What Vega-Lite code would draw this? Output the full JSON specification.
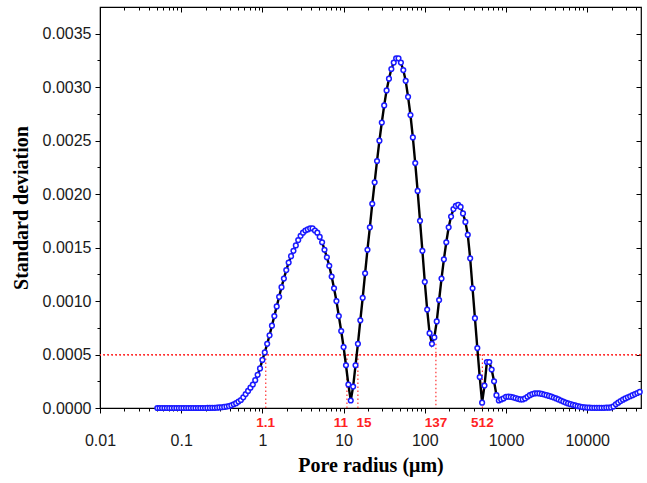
{
  "$schema": "https://vega.github.io/schema/vega-lite/v6.json",
  "width": 541,
  "height": 401,
  "autosize": {"type": "none"},
  "padding": {"left": 100, "top": 7, "right": 6, "bottom": 75},
  "background": "white",
  "config": {
    "view": {"stroke": "black", "strokeWidth": 1.2},
    "axis": {
      "grid": false,
      "domainColor": "black",
      "tickColor": "black",
      "labelFont": "Liberation Sans",
      "labelFontSize": 16,
      "labelColor": "#1a1a1a",
      "titleFont": "Liberation Serif",
      "titleFontWeight": "bold",
      "titleFontSize": 20,
      "titleColor": "black"
    }
  },
  "datasets": {
    "curve": [
      {"r":0.0508,"sd":0},{"r":0.05436,"sd":0},{"r":0.05817,"sd":0},{"r":0.06225,"sd":0},{"r":0.06661,"sd":0},{"r":0.07128,"sd":0},{"r":0.07627,"sd":0},{"r":0.08161,"sd":0},{"r":0.08733,"sd":0},{"r":0.09345,"sd":0},
      {"r":0.1,"sd":0},{"r":0.107,"sd":0},{"r":0.1145,"sd":0},{"r":0.1225,"sd":0},{"r":0.1311,"sd":0},{"r":0.1403,"sd":0},{"r":0.1501,"sd":0},{"r":0.1607,"sd":0},{"r":0.1719,"sd":0},{"r":0.184,"sd":0},{"r":0.1968,"sd":0},
      {"r":0.2106,"sd":0.000001},{"r":0.2254,"sd":0.000001},{"r":0.2412,"sd":0.000002},{"r":0.2581,"sd":0.000002},{"r":0.2762,"sd":0.000003},{"r":0.2955,"sd":0.000005},{"r":0.3162,"sd":0.000007},{"r":0.3384,"sd":0.00001},{"r":0.3621,"sd":0.000013},{"r":0.3875,"sd":0.000018},
      {"r":0.4146,"sd":0.000025},{"r":0.4437,"sd":0.000035},{"r":0.4748,"sd":0.000045},{"r":0.508,"sd":0.00006},{"r":0.5436,"sd":0.000075},{"r":0.5817,"sd":0.0001},{"r":0.6225,"sd":0.00013},{"r":0.6661,"sd":0.00016},{"r":0.7128,"sd":0.00019},{"r":0.7627,"sd":0.00022},{"r":0.8161,"sd":0.00026},{"r":0.8733,"sd":0.00031},{"r":0.9345,"sd":0.00037},
      {"r":1.0,"sd":0.00045},{"r":1.07,"sd":0.00052},{"r":1.145,"sd":0.0006},{"r":1.225,"sd":0.00068},{"r":1.311,"sd":0.00077},{"r":1.403,"sd":0.00086},{"r":1.501,"sd":0.00095},{"r":1.607,"sd":0.00104},{"r":1.719,"sd":0.00113},{"r":1.84,"sd":0.00121},{"r":1.968,"sd":0.00129},{"r":2.106,"sd":0.00136},{"r":2.254,"sd":0.00142},{"r":2.412,"sd":0.00147},{"r":2.581,"sd":0.00152},{"r":2.762,"sd":0.00157},{"r":2.955,"sd":0.00161},{"r":3.162,"sd":0.00164},{"r":3.384,"sd":0.00166},{"r":3.621,"sd":0.00167},{"r":3.875,"sd":0.00168},{"r":4.146,"sd":0.00168},{"r":4.437,"sd":0.00166},{"r":4.748,"sd":0.00164},{"r":5.08,"sd":0.0016},{"r":5.436,"sd":0.00155},{"r":5.817,"sd":0.00148},{"r":6.225,"sd":0.00141},{"r":6.661,"sd":0.00133},{"r":7.128,"sd":0.00123},{"r":7.627,"sd":0.00112},{"r":8.161,"sd":0.001},{"r":8.733,"sd":0.00086},{"r":9.345,"sd":0.00072},
      {"r":10.0,"sd":0.00057},{"r":10.7,"sd":0.0004},{"r":11.45,"sd":0.00022},{"r":12.25,"sd":0.00007},{"r":13.11,"sd":0.0002},{"r":14.03,"sd":0.0004},{"r":15.01,"sd":0.0006},{"r":16.07,"sd":0.00082},{"r":17.19,"sd":0.00103},{"r":18.4,"sd":0.00126},{"r":19.68,"sd":0.00148},{"r":21.06,"sd":0.00169},{"r":22.54,"sd":0.00191},{"r":24.12,"sd":0.00211},{"r":25.81,"sd":0.00231},{"r":27.62,"sd":0.0025},{"r":29.55,"sd":0.00267},{"r":31.62,"sd":0.00283},{"r":33.84,"sd":0.00297},{"r":36.21,"sd":0.00308},{"r":38.75,"sd":0.00317},{"r":41.46,"sd":0.00323},{"r":44.37,"sd":0.00327},{"r":47.48,"sd":0.00327},{"r":50.8,"sd":0.00323},{"r":54.36,"sd":0.00316},{"r":58.17,"sd":0.00306},{"r":62.25,"sd":0.00291},{"r":66.61,"sd":0.00274},{"r":71.28,"sd":0.00253},{"r":76.27,"sd":0.00229},{"r":81.61,"sd":0.00203},{"r":87.33,"sd":0.00175},{"r":93.45,"sd":0.00147},
      {"r":100.0,"sd":0.00118},{"r":107.0,"sd":0.00092},{"r":114.5,"sd":0.0007},{"r":122.5,"sd":0.0006},{"r":131.1,"sd":0.00066},{"r":140.3,"sd":0.00081},{"r":150.1,"sd":0.00101},{"r":160.7,"sd":0.00121},{"r":171.9,"sd":0.00139},{"r":184.0,"sd":0.00155},{"r":196.8,"sd":0.00169},{"r":210.6,"sd":0.00179},{"r":225.4,"sd":0.00186},{"r":241.2,"sd":0.00189},{"r":258.1,"sd":0.0019},{"r":276.2,"sd":0.00188},{"r":295.5,"sd":0.00182},{"r":316.2,"sd":0.00174},{"r":338.4,"sd":0.00162},{"r":362.1,"sd":0.0014},{"r":387.5,"sd":0.00112},{"r":414.6,"sd":0.00084},{"r":443.7,"sd":0.00056},{"r":474.8,"sd":0.00029},{"r":508.0,"sd":0.00005},{"r":543.6,"sd":0.00021},{"r":581.7,"sd":0.00043},{"r":622.5,"sd":0.00043},{"r":666.1,"sd":0.00036},{"r":712.8,"sd":0.00025},{"r":762.7,"sd":0.00012},{"r":816.1,"sd":0.00007},{"r":873.3,"sd":0.00008},{"r":934.5,"sd":0.00009},
      {"r":1000,"sd":0.000105},{"r":1070,"sd":0.000106},{"r":1145,"sd":0.000104},{"r":1225,"sd":0.0001},{"r":1311,"sd":0.000093},{"r":1403,"sd":0.000086},{"r":1501,"sd":0.00008},{"r":1607,"sd":0.00008},{"r":1719,"sd":0.00009},{"r":1840,"sd":0.000105},{"r":1968,"sd":0.00012},{"r":2106,"sd":0.00013},{"r":2254,"sd":0.000136},{"r":2412,"sd":0.000138},{"r":2581,"sd":0.000136},{"r":2762,"sd":0.000132},{"r":2955,"sd":0.000126},{"r":3162,"sd":0.00012},{"r":3384,"sd":0.000113},{"r":3621,"sd":0.000106},{"r":3875,"sd":0.000098},{"r":4146,"sd":0.00009},{"r":4437,"sd":0.00008},{"r":4748,"sd":0.00007},{"r":5080,"sd":0.00006},{"r":5436,"sd":0.000051},{"r":5817,"sd":0.000043},{"r":6225,"sd":0.000036},{"r":6661,"sd":0.00003},{"r":7128,"sd":0.000024},{"r":7627,"sd":0.000018},{"r":8161,"sd":0.000013},{"r":8733,"sd":0.000009},{"r":9345,"sd":0.000006},
      {"r":10000,"sd":0.000004},{"r":10700,"sd":0.000003},{"r":11450,"sd":0.000002},{"r":12250,"sd":0.000002},{"r":13110,"sd":0.000002},{"r":14030,"sd":0.000002},{"r":15010,"sd":0.000002},{"r":16070,"sd":0.000002},{"r":17190,"sd":0.000003},{"r":18400,"sd":0.000003},{"r":19680,"sd":0.000005},{"r":21060,"sd":0.000015},{"r":22540,"sd":0.000035},{"r":24120,"sd":0.00005},{"r":25810,"sd":0.000065},{"r":27620,"sd":0.000078},{"r":29550,"sd":0.00009},{"r":31620,"sd":0.0001},{"r":33840,"sd":0.00011},{"r":36210,"sd":0.00012},{"r":38750,"sd":0.00013},{"r":41460,"sd":0.00014},{"r":44370,"sd":0.00015}
    ],
    "guides": [
      {"r":1.1,"top":0.0005,"label":"1.1"},
      {"r":11,"top":0.0005,"label":"11"},
      {"r":15,"top":0.0005,"label":"15"},
      {"r":137,"top":0.0006,"label":"137"},
      {"r":512,"top":0.0005,"label":"512"}
    ]
  },
  "resolve": {"axis": {"x": "independent", "y": "independent"}},
  "layer": [
    {
      "data": {"name": "guides"},
      "mark": {"type": "rule", "color": "#ff3333", "strokeWidth": 1.2, "strokeDash": [1.5, 2.5]},
      "encoding": {
        "y": {"datum": 0.0005, "type": "quantitative", "scale": {"domain": [0, 0.00375], "nice": false, "zero": false}, "axis": null}
      }
    },
    {
      "data": {"name": "guides"},
      "mark": {"type": "rule", "color": "#ff3333", "strokeWidth": 1.2, "strokeDash": [1.5, 2.5]},
      "encoding": {
        "x": {"field": "r", "type": "quantitative", "scale": {"type": "log", "domain": [0.01, 46000], "nice": false}, "axis": null},
        "y": {"field": "top", "type": "quantitative", "scale": {"domain": [0, 0.00375], "nice": false, "zero": false}, "axis": null},
        "y2": {"datum": 0}
      }
    },
    {
      "data": {"name": "curve"},
      "mark": {"type": "line", "color": "black", "strokeWidth": 2.4},
      "encoding": {
        "x": {"field": "r", "type": "quantitative", "scale": {"type": "log", "domain": [0.01, 46000], "nice": false},
          "axis": {"orient": "top", "title": null, "labels": false, "domain": false,
            "values": [0.01,0.02,0.03,0.04,0.05,0.06,0.07,0.08,0.09,0.1,0.2,0.3,0.4,0.5,0.6,0.7,0.8,0.9,1,2,3,4,5,6,7,8,9,10,20,30,40,50,60,70,80,90,100,200,300,400,500,600,700,800,900,1000,2000,3000,4000,5000,6000,7000,8000,9000,10000,20000,30000,40000],
            "tickSize": {"condition": {"test": "indexof([0.01,0.1,1,10,100,1000,10000], datum.value) >= 0", "value": -5}, "value": -3}}},
        "y": {"field": "sd", "type": "quantitative", "scale": {"domain": [0, 0.00375], "nice": false, "zero": false},
          "axis": {"orient": "right", "title": null, "labels": false, "domain": false,
            "values": [0,0.00025,0.0005,0.00075,0.001,0.00125,0.0015,0.00175,0.002,0.00225,0.0025,0.00275,0.003,0.00325,0.0035],
            "tickSize": {"condition": {"test": "abs(datum.value*2000 - round(datum.value*2000)) < 0.000001", "value": -5}, "value": -3}}}
      }
    },
    {
      "data": {"name": "curve"},
      "mark": {"type": "point", "shape": "circle", "filled": false, "fill": "white", "fillOpacity": 1, "stroke": "#1a1aff", "strokeWidth": 1.5, "size": 22, "opacity": 1},
      "encoding": {
        "x": {"field": "r", "type": "quantitative", "scale": {"type": "log", "domain": [0.01, 46000], "nice": false},
          "axis": {"orient": "bottom", "title": "Pore radius (μm)", "format": "~g",
            "values": [0.01,0.02,0.03,0.04,0.05,0.06,0.07,0.08,0.09,0.1,0.2,0.3,0.4,0.5,0.6,0.7,0.8,0.9,1,2,3,4,5,6,7,8,9,10,20,30,40,50,60,70,80,90,100,200,300,400,500,600,700,800,900,1000,2000,3000,4000,5000,6000,7000,8000,9000,10000,20000,30000,40000],
            "labelExpr": "indexof([0.01,0.1,1,10,100,1000,10000], datum.value) >= 0 ? datum.label : ''",
            "tickSize": {"condition": {"test": "indexof([0.01,0.1,1,10,100,1000,10000], datum.value) >= 0", "value": 5}, "value": 3},
            "labelPadding": 19, "labelOverlap": false, "labelFlush": false, "titlePadding": 7}},
        "y": {"field": "sd", "type": "quantitative", "scale": {"domain": [0, 0.00375], "nice": false, "zero": false},
          "axis": {"orient": "left", "title": "Standard deviation", "format": ".4f",
            "values": [0,0.00025,0.0005,0.00075,0.001,0.00125,0.0015,0.00175,0.002,0.00225,0.0025,0.00275,0.003,0.00325,0.0035],
            "labelExpr": "abs(datum.value*2000 - round(datum.value*2000)) < 0.000001 ? datum.label : ''",
            "tickSize": {"condition": {"test": "abs(datum.value*2000 - round(datum.value*2000)) < 0.000001", "value": 5}, "value": 3},
            "labelPadding": 4, "labelOverlap": false, "titlePadding": 11}}
      }
    },
    {
      "data": {"name": "guides"},
      "transform": [{"filter": "datum.label != '11' && datum.label != '15'"}],
      "mark": {"type": "text", "color": "#ff2222", "font": "Liberation Sans", "fontWeight": "bold", "fontSize": 13.5, "baseline": "middle", "align": "center", "dy": 15},
      "encoding": {
        "x": {"field": "r", "type": "quantitative", "scale": {"type": "log", "domain": [0.01, 46000], "nice": false}, "axis": null},
        "y": {"datum": 0, "type": "quantitative", "scale": {"domain": [0, 0.00375], "nice": false, "zero": false}, "axis": null},
        "text": {"field": "label"}
      }
    },
    {
      "data": {"name": "guides"},
      "transform": [{"filter": "datum.label == '11'"}],
      "mark": {"type": "text", "color": "#ff2222", "font": "Liberation Sans", "fontWeight": "bold", "fontSize": 13.5, "baseline": "middle", "align": "center", "dy": 15, "dx": -6},
      "encoding": {
        "x": {"field": "r", "type": "quantitative", "scale": {"type": "log", "domain": [0.01, 46000], "nice": false}, "axis": null},
        "y": {"datum": 0, "type": "quantitative", "scale": {"domain": [0, 0.00375], "nice": false, "zero": false}, "axis": null},
        "text": {"field": "label"}
      }
    },
    {
      "data": {"name": "guides"},
      "transform": [{"filter": "datum.label == '15'"}],
      "mark": {"type": "text", "color": "#ff2222", "font": "Liberation Sans", "fontWeight": "bold", "fontSize": 13.5, "baseline": "middle", "align": "center", "dy": 15, "dx": 6},
      "encoding": {
        "x": {"field": "r", "type": "quantitative", "scale": {"type": "log", "domain": [0.01, 46000], "nice": false}, "axis": null},
        "y": {"datum": 0, "type": "quantitative", "scale": {"domain": [0, 0.00375], "nice": false, "zero": false}, "axis": null},
        "text": {"field": "label"}
      }
    }
  ]
}
